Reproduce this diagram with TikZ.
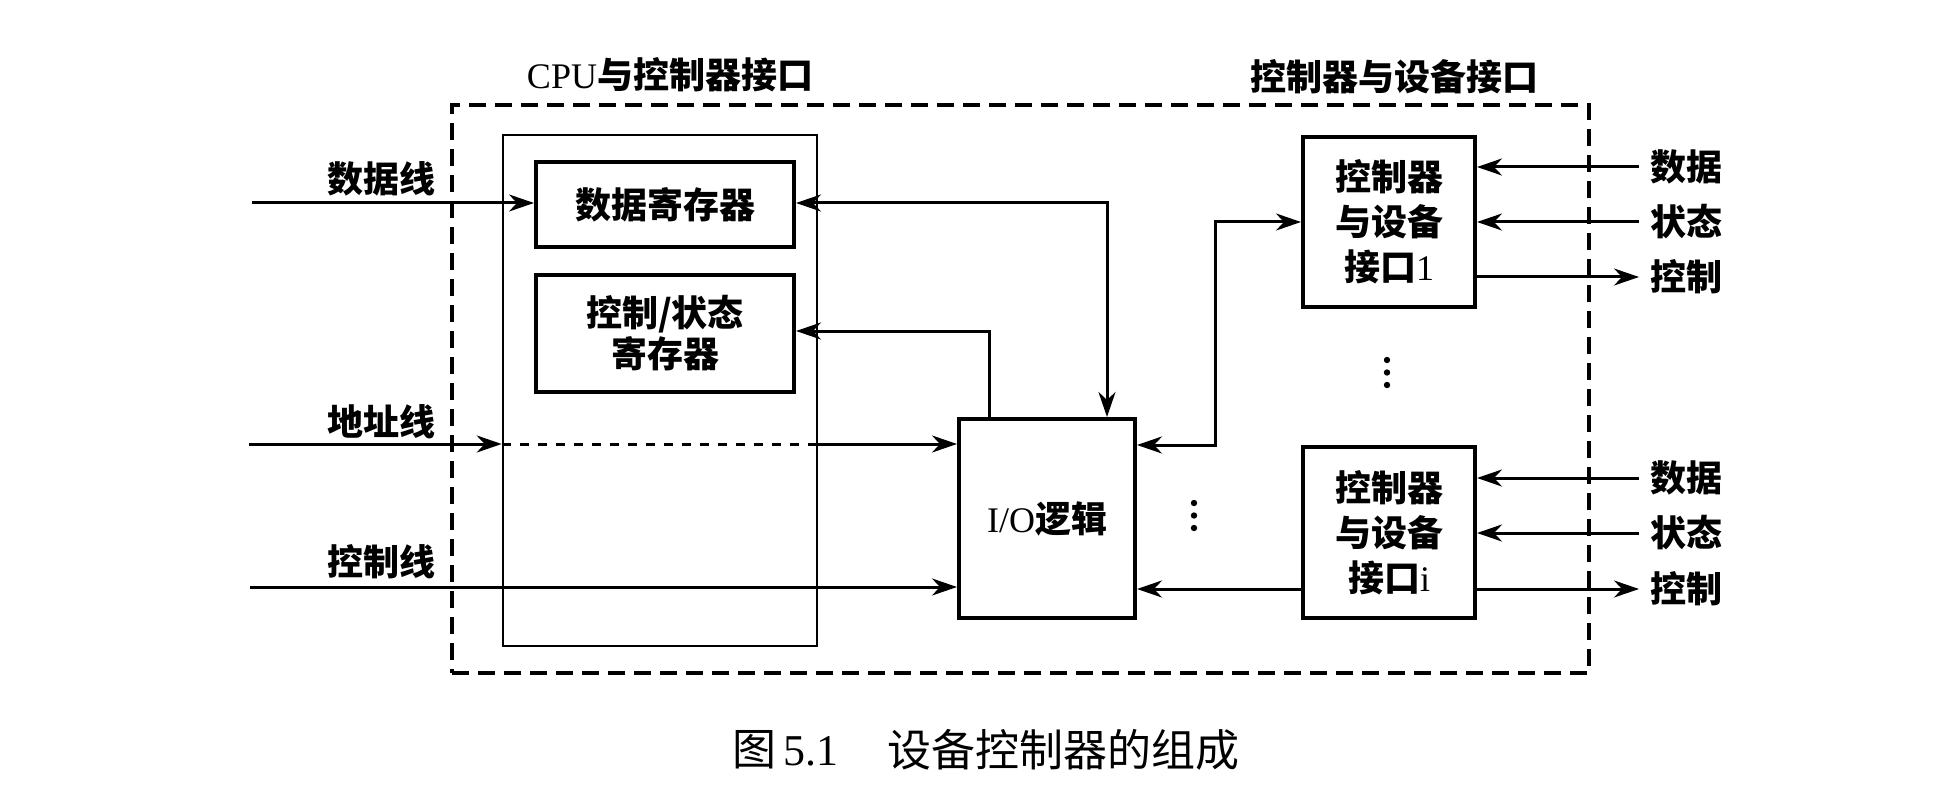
\documentclass[tikz,border=0pt]{standalone}
\usepackage{fontspec}
\setmainfont{Liberation Serif}
\newfontfamily\cjk{Noto Sans CJK SC}
\usetikzlibrary{arrows.meta}
\newcommand\zh[1]{{\cjk\bfseries #1}}
\newcommand\zr[1]{{\cjk #1}}
\begin{document}
\begin{tikzpicture}[x=0.5pt,y=-0.5pt,
  lab/.style={font=\fontsize{18}{22}\selectfont, inner sep=0pt, align=center},
  captext/.style={font=\fontsize{22}{26}\selectfont, inner sep=0pt},
  box/.style={draw, line width=2pt, inner sep=0pt, font=\fontsize{18}{22.5}\selectfont, align=center},
  thinbox/.style={draw, line width=1.3pt, inner sep=0pt},
  outerbox/.style={draw, line width=1.7pt, dash pattern=on 8.5pt off 4.5pt, inner sep=0pt},
  conn/.style={line width=1.5pt},
  tip/.tip={Stealth[length=12.5pt,width=8.5pt,inset=4pt]},
  arr/.style={conn, -tip},
  barr/.style={conn, tip-tip},
  inner dash/.style={conn, dash pattern=on 4.5pt off 4.5pt},
  dot/.style={fill, circle, inner sep=0pt, minimum size=3.2pt}
]
\useasboundingbox (0,0) rectangle (1948,802);

% outer dashed frame
\node[outerbox, minimum width=568.5pt, minimum height=284pt] (outer) at (1020.5,389) {};

% boxes
\node[thinbox, minimum width=157pt, minimum height=255.5pt] (cpu) at (660,390.5) {};
\node[box, minimum width=129pt, minimum height=42.5pt] (dreg) at (665,204.5) {\zh{数据寄存器}};
\node[box, minimum width=129pt, minimum height=58.5pt] (creg) at (665,333.5) {\zh{控制/状态}\\[-2pt]\zh{寄存器}};
\node[box, minimum width=88pt, minimum height=99.5pt] (io) at (1047,518.5) {I/O\zh{逻辑}};
\node[box, minimum width=86pt, minimum height=85pt] (int1) at (1389,222) {\zh{控制器}\\\zh{与设备}\\\zh{接口}1};
\node[box, minimum width=86pt, minimum height=85.5pt] (inti) at (1389,532.5) {\zh{控制器}\\\zh{与设备}\\\zh{接口}i};

% titles
\node[lab] (t1) at (670,75) {CPU\zh{与控制器接口}};
\node[lab] (t2) at (1394,77) {\zh{控制器与设备接口}};

% left labels
\node[lab, anchor=east] (ldata) at (436,179) {\zh{数据线}};
\node[lab, anchor=east] (laddr) at (436,422) {\zh{地址线}};
\node[lab, anchor=east] (lctrl) at (436,562) {\zh{控制线}};

% left connectors
\coordinate (dl) at (252,203);
\coordinate (al) at (249,444);
\coordinate (cl) at (250,587);
\draw[arr] (dl) -- (dl -| dreg.west);
\draw[arr] (al) -- (al -| cpu.west);
\draw[inner dash] (al -| cpu.west) -- (al -| cpu.east);
\draw[arr] (al -| cpu.east) -- (al -| io.west);
\draw[arr] (cl) -- (cl -| io.west);

% registers <-> I/O logic
\coordinate (d1) at (1107,203);
\coordinate (c1) at (989,331);
\draw[barr] (d1 -| dreg.east) -- (d1) -- (d1 |- io.north);
\draw[arr] (c1 |- io.north) -- (c1) -- (c1 -| creg.east);

% I/O logic <-> interfaces
\coordinate (i1) at (1215,445);
\draw[barr] (i1 -| io.east) -- (i1) -- (i1 |- int1.west) -- (int1.west);
\coordinate (ii) at (1250,589);
\draw[arr] (ii -| inti.west) -- (ii -| io.east);

% right side labels and connectors
\node[lab, anchor=west] (r1d) at (1650,167) {\zh{数据}};
\node[lab, anchor=west] (r1s) at (1650,222) {\zh{状态}};
\node[lab, anchor=west] (r1c) at (1650,277) {\zh{控制}};
\node[lab, anchor=west] (rid) at (1650,478) {\zh{数据}};
\node[lab, anchor=west] (ris) at (1650,533) {\zh{状态}};
\node[lab, anchor=west] (ric) at (1650,589) {\zh{控制}};
\coordinate (e1d) at (1639,167);
\coordinate (e1s) at (1639,222);
\coordinate (e1c) at (1639,277);
\coordinate (eid) at (1639,478);
\coordinate (eis) at (1639,533);
\coordinate (eic) at (1639,589);
\draw[arr] (e1d) -- (e1d -| int1.east);
\draw[arr] (e1s) -- (e1s -| int1.east);
\draw[arr] (e1c -| int1.east) -- (e1c);
\draw[arr] (eid) -- (eid -| inti.east);
\draw[arr] (eis) -- (eis -| inti.east);
\draw[arr] (eic -| inti.east) -- (eic);

% ellipsis dots
\node[dot] (v1) at (1387,360) {};
\node[dot] (v2) at (1387,372.5) {};
\node[dot] (v3) at (1387,385) {};
\node[dot] (h1) at (1194,503) {};
\node[dot] (h2) at (1194,515.5) {};
\node[dot] (h3) at (1194,528) {};

% caption
\node[captext, anchor=west] (cap1) at (732,750) {\zr{图}\,5.1};
\node[captext, anchor=west] (cap2) at (887,750) {\zr{设备控制器的组成}};
\end{tikzpicture}
\end{document}
